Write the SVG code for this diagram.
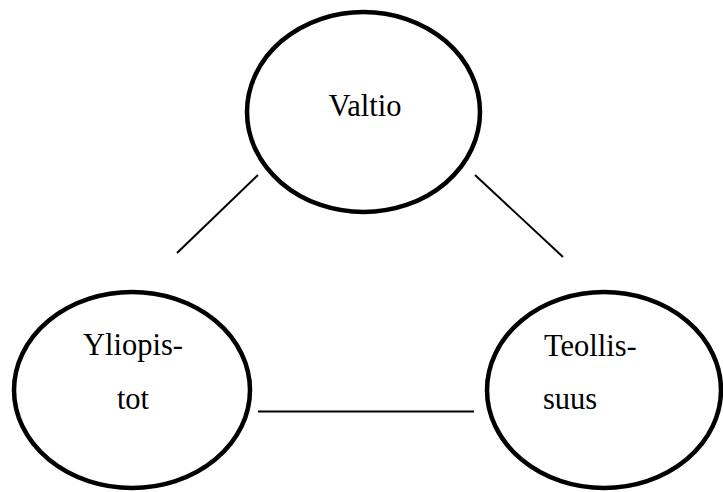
<svg xmlns="http://www.w3.org/2000/svg" width="723" height="492" viewBox="0 0 723 492">
<style>
.node{fill:#fff;stroke:#000;stroke-width:4.5}
.lbl{font-family:'Liberation Serif','Times New Roman','DejaVu Serif','Noto Serif',serif;font-size:30.5px;fill:#000}
.conn{stroke:#000;stroke-width:2;fill:none}
</style>
<rect width="723" height="492" fill="#fff"/>
<g id="connectors">
<line class="conn" x1="258" y1="175" x2="177" y2="253"/>
<line class="conn" x1="475" y1="175" x2="563" y2="257"/>
<line class="conn" x1="258" y1="411.5" x2="474" y2="411.5" stroke-width="2.5"/>
</g>
<g id="valtio">
<ellipse class="node" cx="363.5" cy="112" rx="116.5" ry="100"/>
<text class="lbl" x="365" y="116" text-anchor="middle" font-family="'Liberation Serif', serif">Valtio</text>
</g>
<g id="yliopistot">
<ellipse class="node" cx="132" cy="390" rx="118" ry="98"/>
<text class="lbl" x="133" y="355" text-anchor="middle">Yliopis-</text>
<text class="lbl" x="133" y="409" text-anchor="middle">tot</text>
</g>
<g id="teollisuus">
<ellipse class="node" cx="604" cy="390" rx="117" ry="98"/>
<text class="lbl" x="544" y="356">Teollis-</text>
<text class="lbl" x="543" y="409">suus</text>
</g>
</svg>
